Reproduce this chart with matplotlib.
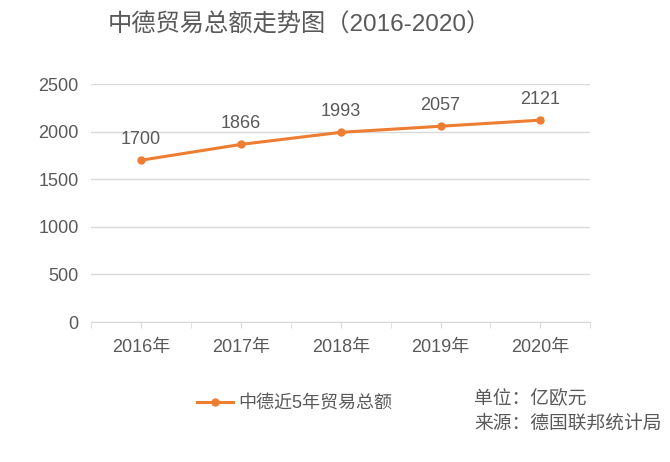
import numpy as np
import matplotlib.pyplot as plt

plt.rcParams['font.family'] = ['Liberation Sans', 'Noto Sans CJK SC', 'DejaVu Sans']

# données
annees = ['2016年', '2017年', '2018年', '2019年', '2020年']
montants = [1700, 1866, 1993, 2057, 2121]
yticks = [0, 500, 1000, 1500, 2000, 2500]

gris = '#595959'
orange = '#ED7D31'

fig = plt.figure(figsize=(6.7, 4.62), dpi=100)
ax = fig.add_axes([0.136, 0.303, 0.745, 0.515])

x = np.arange(len(annees))
ax.plot(x, montants, '-o', color=orange, lw=2.2, ms=5, label='中德近5年贸易总额')
for xi, v in zip(x, montants):
    ax.annotate(str(v), (xi, v), textcoords='offset points', xytext=(0, 9),
                ha='center', va='bottom', fontsize=13, color=gris)

ax.set_xlim(-0.5, len(annees) - 0.5)
ax.set_ylim(0, 2500)
ax.set_yticks(yticks)
ax.set_xticks(x)
ax.set_xticks(np.arange(-0.5, len(annees), 1.0), minor=True)
ax.set_xticklabels(annees)
ax.grid(axis='y', color='#d9d9d9', lw=1)
ax.set_axisbelow(True)
for s in ['top', 'right', 'left']:
    ax.spines[s].set_visible(False)
ax.spines['bottom'].set_color('#d9d9d9')
ax.tick_params(axis='y', length=0, labelsize=13, labelcolor=gris, pad=9)
ax.tick_params(axis='x', which='both', length=4, color='#d9d9d9',
               labelsize=13, labelcolor=gris, pad=8)

fig.text(0.447, 0.945, '中德贸易总额走势图（2016-2020）', ha='center', va='center',
         fontsize=17.5, color=gris)

fig.legend(loc='center', bbox_to_anchor=(0.44, 0.126), frameon=False,
           fontsize=13, labelcolor=gris, handlelength=2.0, handletextpad=0.3)

fig.text(0.708, 0.138, '单位：亿欧元', ha='left', va='center', fontsize=13.5, color=gris)
fig.text(0.708, 0.082, '来源：德国联邦统计局', ha='left', va='center', fontsize=13.5, color=gris)

plt.savefig('out.png', dpi=100)
